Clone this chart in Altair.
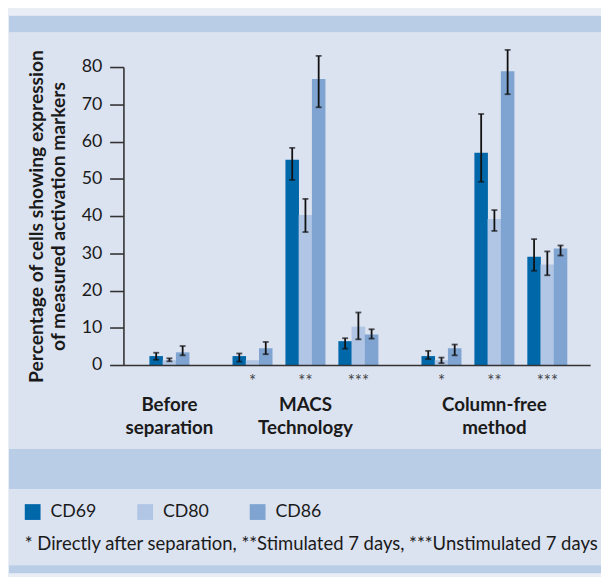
import altair as alt
import pandas as pd

# ---------------- data ----------------
markers = ["CD69", "CD80", "CD86"]
marker_colors = ["#0067a9", "#b1c5e4", "#7fa4d1"]

group_names = ["Before\nseparation", "MACS\nTechnology", "Column-free\nmethod"]
set_group = [0, 1, 1, 1, 2, 2, 2]
set_stars = ["", "*", "**", "***", "*", "**", "***"]

cd69 = [2.4, 2.4, 55.1, 6.4, 2.4, 57.0, 29.1]
cd69_lo = [1.4, 0.9, 49.7, 4.4, 1.6, 49.2, 25.3]
cd69_hi = [3.3, 3.1, 58.3, 7.2, 3.8, 67.4, 33.8]

cd80 = [1.3, 1.3, 40.3, 10.3, 1.3, 39.2, 27.0]
cd80_lo = [1.0, None, 35.7, 6.9, 0.5, 36.0, 24.1]
cd80_hi = [1.8, None, 44.6, 14.1, 2.0, 41.6, 30.5]

cd86 = [3.4, 4.5, 76.8, 8.2, 4.5, 78.9, 31.3]
cd86_lo = [2.6, 2.9, 69.2, 7.1, 2.6, 72.7, 29.4]
cd86_hi = [5.1, 6.2, 83.0, 9.6, 5.5, 84.6, 32.1]

y_ticks = [0, 10, 20, 30, 40, 50, 60, 70, 80]
y_title = ["Percentage of cells showing expression", "of measured activation markers"]
footnote = "* Directly after separation, **Stimulated 7 days, ***Unstimulated 7 days"

# ---------------- table ----------------
series = {
    "CD69": (cd69, cd69_lo, cd69_hi),
    "CD80": (cd80, cd80_lo, cd80_hi),
    "CD86": (cd86, cd86_lo, cd86_hi),
}
rows = []
for s in range(len(set_group)):
    for m, name in enumerate(markers):
        v, lo, hi = series[name]
        rows.append(dict(set=s, grp=set_group[s], gname=group_names[set_group[s]],
                         stars=set_stars[s], marker=name, midx=m,
                         value=v[s], lo=lo[s], hi=hi[s]))
df = pd.DataFrame(rows)

FONT = "Lato"
INK = "#1a1a1a"
AXC = "#333333"
PANEL = "#dbe2f0"
BAND = "#bacde7"
OUTER = "#e9eef6"

xscale = alt.Scale(domain=[-0.7755, 7.856], nice=False, zero=False)
yscale = alt.Scale(domain=[0, 80], nice=False)

xaxis = alt.Axis(labels=False, ticks=False, grid=False, title=None, zindex=1,
                 domainColor=AXC, domainWidth=1.6)
yaxis = alt.Axis(values=y_ticks, grid=False, labelOverlap=False, title=y_title, zindex=1,
                 domainColor=AXC, domainWidth=1.6, tickColor=AXC, tickWidth=1.6,
                 tickSize=14, labelFontSize=18, labelPadding=8, labelColor=INK,
                 labelFont=FONT, titleFontSize=19.5, titleFontWeight="bold",
                 titleFont=FONT, titleColor=INK, titleLineHeight=22,
                 titleX=-78, titleY=151, titleBaseline="bottom")

X = alt.X("pos:Q", scale=xscale, axis=xaxis)


def Y(field):
    return alt.Y(field, scale=yscale, axis=yaxis)


base = alt.Chart(df).transform_calculate(
    pos="datum.set + 0.57 * datum.grp + (datum.midx - 1) * 0.25"
)

bars = base.mark_bar(size=13.7).encode(
    x=X,
    y=Y("value:Q"),
    color=alt.Color("marker:N", scale=alt.Scale(domain=markers, range=marker_colors),
                    legend=alt.Legend(orient="none", legendX=-101, legendY=442,
                                      direction="horizontal", title=None,
                                      symbolType="square", symbolSize=256,
                                      symbolStrokeWidth=0, symbolOpacity=1,
                                      labelFontSize=18, labelOffset=9,
                                      columnPadding=40, padding=0,
                                      labelColor=INK)),
)

err = base.mark_rule(color="#111111", strokeWidth=1.8).encode(
    x=X, y=Y("lo:Q"), y2="hi:Q")
cap_lo = base.mark_tick(orient="horizontal", size=6, thickness=1.8, color="#111111").encode(
    x=X, y=Y("lo:Q"))
cap_hi = base.mark_tick(orient="horizontal", size=6, thickness=1.8, color="#111111").encode(
    x=X, y=Y("hi:Q"))

stars = base.transform_filter("datum.midx == 1").mark_text(
    fontSize=17, color="#444444", baseline="alphabetic", align="center"
).encode(x=X, y=alt.value(324), text="stars:N")

glabels = base.transform_aggregate(pos="mean(pos)", groupby=["gname"]).mark_text(
    fontSize=19, fontWeight="bold", color=INK, lineBreak="\n", lineHeight=23.4,
    baseline="alphabetic", align="center"
).encode(x=X, y=alt.value(348.3), text="gname:N")

one = pd.DataFrame({"k": [0]})


def band(x1, x2, y1, y2, col):
    return alt.Chart(one).mark_rect(color=col).encode(
        x=alt.value(x1), x2=alt.value(x2), y=alt.value(y1), y2=alt.value(y2))


bg = [
    band(-117, 484, -56, 513, OUTER),
    band(-116, 484, -52, -35, BAND),
    band(-116, 484, -35, 387, PANEL),
    band(-116, 484, 387, 428, BAND),
    band(-116, 484, 428, 505, PANEL),
    band(-116, 484, 505, 513, BAND),
]

foot = alt.Chart(pd.DataFrame({"t": [footnote]})).mark_text(
    align="left", baseline="middle", fontSize=18.7, color=INK
).encode(x=alt.value(-100), y=alt.value(483), text="t:N")

chart = alt.layer(*bg, bars, err, cap_lo, cap_hi, stars, glabels, foot).properties(
    width=473, height=302, padding=0
).configure(
    font=FONT, background=OUTER
).configure_view(
    stroke=None
)

chart.save("out.html", embed_options={"renderer": "svg", "actions": False})
